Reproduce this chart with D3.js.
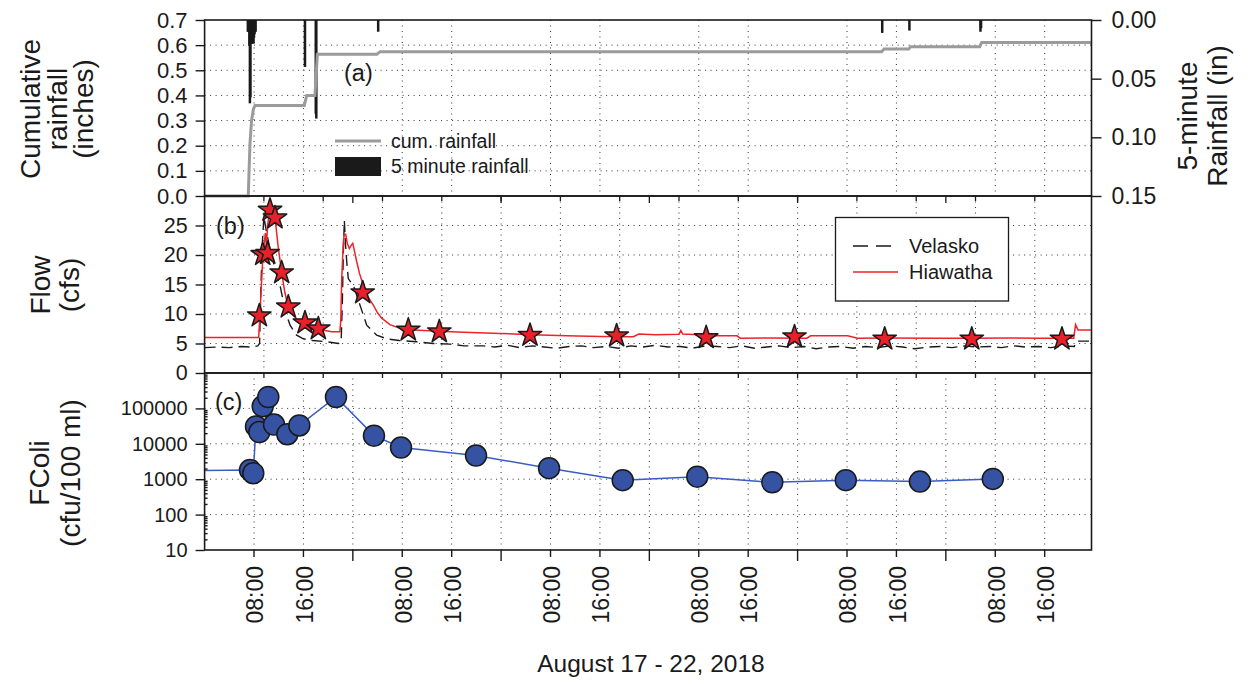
<!DOCTYPE html>
<html>
<head>
<meta charset="utf-8">
<script src="https://cdn.jsdelivr.net/npm/d3@7"></script>
<style>
  body { margin: 0; background: #fff; }
  svg text { font-family: "Liberation Sans", Arial, Helvetica, sans-serif; fill: #1a1a1a; }
</style>
</head>
<body>
<svg id="chart" width="1252" height="684"></svg>
<script>
// ---- Data (time in hours after 2018-08-17 00:00) ----
// Cumulative rainfall, inches
const cumRainHours  = [0, 7.07, 7.2, 7.35, 7.6, 7.9, 8.16, 16.14, 16.53, 17.87, 18.25, 27.9, 28.4, 109.6, 110.0, 114.0, 114.3, 125.5, 125.8, 143.6];
const cumRainInches = [0, 0, 0.10, 0.21, 0.30, 0.345, 0.36, 0.36, 0.40, 0.40, 0.564, 0.564, 0.574, 0.574, 0.585, 0.585, 0.594, 0.594, 0.611, 0.611];

// 5-minute rainfall, inches
const rain5Hours  = [7.0, 7.083, 7.167, 7.25, 7.333, 7.417, 7.5, 7.583, 7.667, 7.75, 7.833, 7.917, 8.0, 8.083, 8.167, 8.25, 16.25, 18.0, 18.083, 28.1, 109.7, 114.1, 125.6, 125.7];
const rain5Inches = [0.010, 0.010, 0.010, 0.022, 0.071, 0.066, 0.020, 0.020, 0.020, 0.020, 0.020, 0.020, 0.015, 0.012, 0.010, 0.010, 0.040, 0.080, 0.084, 0.010, 0.011, 0.009, 0.010, 0.007];

// Flow, cfs
const hiawathaHours = [0, 4, 8.75, 8.95, 9.15, 9.4, 9.65, 9.85, 10.0, 10.2, 10.5, 10.9, 11.4, 11.9, 12.48, 13.0, 13.55, 14.3, 15.2, 16.25, 17.3, 18.4, 19.5, 20.6, 21.9, 22.05, 22.2, 22.45, 22.6, 22.84, 23.1, 23.43, 23.7, 23.98, 24.3, 24.62, 25.1, 25.69, 26.4, 27.31, 28.0, 28.67, 30, 31.63, 34, 37, 42, 47.8, 53, 58.6, 64, 69.4, 70.3, 73, 76.8, 77.1, 77.4, 80, 81.3, 86.2, 86.7, 92, 97.5, 98.1, 104.1, 105.7, 111, 118, 124, 130, 135, 140.7, 141.0, 141.4, 143.6];
const hiawathaCfs   = [6.0, 6.0, 6.0, 9.7, 14, 19, 22, 23.7, 21.5, 25, 27.4, 27.6, 26.3, 21.5, 17.0, 13.6, 11.2, 9.8, 8.9, 8.4, 7.9, 7.5, 7.2, 7.0, 7.0, 9, 16, 22, 23.5, 23.5, 22, 21.1, 21.6, 22.0, 20.5, 18.9, 16.8, 14.9, 13.0, 11.5, 10.2, 9.3, 8.2, 7.6, 7.3, 7.1, 6.9, 6.7, 6.5, 6.3, 6.2, 6.15, 6.6, 6.5, 6.55, 7.2, 6.6, 6.5, 6.3, 6.3, 5.9, 5.95, 5.9, 6.3, 6.3, 5.9, 5.95, 5.9, 5.9, 5.95, 5.9, 5.9, 8.2, 7.3, 7.3];

const velaskoHours = [0, 2, 4, 6, 7.5, 8.6, 8.9, 9.1, 9.35, 9.6, 10.0, 10.6, 11.2, 11.7, 12.2, 12.74, 13.3, 13.83, 14.9, 15.98, 17.5, 19.77, 21.65, 22.1, 22.3, 22.45, 22.62, 22.8, 23.0, 23.26, 23.6, 24.07, 25.16, 26.24, 27.86, 29.48, 31.5, 34.3, 37, 39.7, 42, 45.1, 47, 49, 51, 53, 55, 57, 59, 61, 63, 65, 67, 69, 71, 73, 75, 77, 79, 81, 83, 85, 87, 89, 91, 93, 95, 97, 99, 101, 103, 105, 107, 109, 111, 113, 115, 117, 119, 121, 123, 125, 127, 129, 131, 133, 135, 137, 139, 140.8, 141.1, 143.6];
const velaskoCfs   = [4.3, 4.4, 4.3, 4.5, 4.4, 4.6, 5.0, 14, 22, 26.5, 24, 21, 18.5, 16.5, 14.9, 12.1, 9.8, 8.1, 6.4, 5.8, 5.5, 5.3, 5.0, 5.2, 12, 20, 25.9, 22, 19, 16, 15.5, 14.9, 11.5, 8.1, 6.4, 5.8, 5.5, 5.3, 5.0, 4.9, 4.6, 4.6, 4.4, 4.7, 4.3, 4.6, 4.4, 4.2, 4.5, 4.6, 4.3, 4.5, 4.2, 4.6, 4.4, 4.7, 4.4, 4.5, 4.2, 4.6, 4.5, 4.3, 4.6, 4.2, 4.4, 4.6, 4.3, 4.5, 4.1, 4.4, 4.5, 4.2, 4.5, 4.3, 4.6, 4.4, 4.1, 4.4, 4.5, 4.3, 4.6, 4.4, 4.5, 4.3, 4.6, 4.4, 4.5, 4.3, 4.6, 4.5, 5.4, 5.4];

// Flow at the sampling times, cfs
const sampleHours   = [8.86, 9.41, 10.21, 10.59, 11.4, 12.48, 13.55, 16.25, 18.41, 25.6, 32.98, 38.0, 52.68, 66.7, 81.2, 95.5, 110.1, 124.2, 138.8];
const sampleFlowCfs = [9.7, 20.1, 20.3, 27.6, 26.3, 17.0, 11.2, 8.5, 7.5, 13.6, 7.3, 7.0, 6.4, 6.3, 6.0, 6.15, 5.76, 5.76, 5.76];

// Fecal coliform, cfu/100 ml
const fcoliHours = [-6, 7.35, 7.88, 8.32, 8.86, 9.41, 10.31, 11.24, 13.39, 15.33, 21.27, 27.42, 31.8, 43.94, 55.76, 67.69, 79.76, 91.9, 103.8, 115.8, 127.6];
const fcoliCfu   = [1700, 1830, 1480, 31000, 21500, 115000, 210000, 35000, 18700, 33000, 210000, 17000, 7850, 4660, 2050, 940, 1180, 820, 940, 855, 1020];

// Axis ticks
const rainTicks   = [0, 0.1, 0.2, 0.3, 0.4, 0.5, 0.6, 0.7];
const rain5Ticks  = [0, 0.05, 0.10, 0.15];
const flowTicks   = [0, 5, 10, 15, 20, 25];
const fcoliTicks  = [10, 100, 1000, 10000, 100000];
const timeLabelHours = [8, 16];

// ---- Layout ----
const svg = d3.select("#chart");
const L = 204.6, R = 1091.5;
const rainTop = 20, rainBot = 196, flowTop = 196, flowBot = 373, fcTop = 373, fcBot = 550;

const t0 = Date.UTC(2018, 7, 17);
const T = h => new Date(t0 + h * 3600000);
const x = d3.scaleUtc().domain([T(0), T(143.58)]).range([L, R]);
const yRain = d3.scaleLinear().domain([0, 0.7]).range([rainBot, rainTop]);
const yRain5 = d3.scaleLinear().domain([0, 0.15]).range([rainTop, rainBot]);
const yFlow = d3.scaleLinear().domain([0, 30]).range([flowBot, flowTop]);
const yFc = d3.scaleLog().domain([10, 1e6]).range([fcBot, fcTop]);
// day-number scale used by the flow panel's own grid (0.4-day spacing)
const xDay = d3.scaleLinear().domain([228, 228 + 143.58 / 24]).range([L, R]);

svg.append("defs").append("clipPath").attr("id", "plotclip")
  .append("rect").attr("x", L).attr("y", rainTop).attr("width", R - L).attr("height", fcBot - rainTop);

const gridStyle = sel => sel.attr("stroke", "#333").attr("stroke-width", 1).attr("stroke-dasharray", "1,4.5");

// ---- Gridlines ----
const grid = svg.append("g");
const hours8 = d3.utcHour.every(8).range(T(0), T(143.58)).filter(d => +d > +T(0.5));
// rain panel: horizontal + vertical at 08:00/16:00
grid.append("g").selectAll("line").data(rainTicks.slice(1, -1)).join("line")
  .attr("x1", L).attr("x2", R).attr("y1", d => yRain(d)).attr("y2", d => yRain(d)).call(gridStyle);
grid.append("g").selectAll("line").data(hours8.filter(d => d.getUTCHours() !== 0)).join("line")
  .attr("x1", d => x(d)).attr("x2", d => x(d)).attr("y1", rainTop).attr("y2", rainBot).call(gridStyle);
// flow panel
const dayTicks = d3.range(228.4, 228 + 143.58 / 24, 0.4);
grid.append("g").selectAll("line").data(flowTicks.slice(1)).join("line")
  .attr("x1", L).attr("x2", R).attr("y1", d => yFlow(d)).attr("y2", d => yFlow(d)).call(gridStyle);
grid.append("g").selectAll("line").data(dayTicks).join("line")
  .attr("x1", d => xDay(d)).attr("x2", d => xDay(d)).attr("y1", flowTop).attr("y2", flowBot).call(gridStyle);
// fcoli panel
grid.append("g").selectAll("line").data(fcoliTicks.slice(1)).join("line")
  .attr("x1", L).attr("x2", R).attr("y1", d => yFc(d)).attr("y2", d => yFc(d)).call(gridStyle);
grid.append("g").selectAll("line").data(hours8).join("line")
  .attr("x1", d => x(d)).attr("x2", d => x(d)).attr("y1", fcTop).attr("y2", fcBot).call(gridStyle);

// ---- Panel (a): rainfall ----
const plot = svg.append("g").attr("clip-path", "url(#plotclip)");
plot.append("g").selectAll("rect").data(rain5Hours.map((h, i) => [h, rain5Inches[i]])).join("rect")
  .attr("x", d => x(T(d[0])) - 1.25).attr("width", 2.5)
  .attr("y", yRain5(0)).attr("height", d => yRain5(d[1]) - yRain5(0))
  .attr("fill", "#1a1a1a");
plot.append("path")
  .datum(cumRainHours.map((h, i) => [h, cumRainInches[i]]))
  .attr("fill", "none").attr("stroke", "#9b9b9b").attr("stroke-width", 3)
  .attr("d", d3.line().x(d => x(T(d[0]))).y(d => yRain(d[1])));

// legend (a)
svg.append("line").attr("x1", 335).attr("x2", 381).attr("y1", 141).attr("y2", 141)
  .attr("stroke", "#9b9b9b").attr("stroke-width", 3);
svg.append("text").attr("x", 391).attr("y", 148).attr("font-size", 19.5).text("cum. rainfall");
svg.append("rect").attr("x", 335).attr("y", 157).attr("width", 46).attr("height", 19).attr("fill", "#1a1a1a");
svg.append("text").attr("x", 391).attr("y", 173).attr("font-size", 19.5).text("5 minute rainfall");
svg.append("text").attr("x", 344).attr("y", 81).attr("font-size", 23.5).text("(a)");

// ---- Panel (b): flow ----
const flowLine = d3.line().x(d => x(T(d[0]))).y(d => yFlow(d[1]));
plot.append("path").datum(velaskoHours.map((h, i) => [h, velaskoCfs[i]]))
  .attr("fill", "none").attr("stroke", "#1a1a1a").attr("stroke-width", 1.4)
  .attr("stroke-dasharray", "11,6").attr("d", flowLine);
plot.append("path").datum(hiawathaHours.map((h, i) => [h, hiawathaCfs[i]]))
  .attr("fill", "none").attr("stroke", "#ee2229").attr("stroke-width", 1.5).attr("d", flowLine);
const star = d3.symbol(d3.symbolStar, 170);
svg.append("g").selectAll("path").data(sampleHours.map((h, i) => [h, sampleFlowCfs[i]])).join("path")
  .attr("d", star)
  .attr("transform", d => `translate(${x(T(d[0]))},${yFlow(d[1])})`)
  .attr("fill", "#e8202a").attr("stroke", "#1a1a1a").attr("stroke-width", 1.5).attr("stroke-linejoin", "round");

svg.append("text").attr("x", 216).attr("y", 234).attr("font-size", 23.5).text("(b)");
// legend (b)
const lg = svg.append("g");
lg.append("rect").attr("x", 835.5).attr("y", 217.5).attr("width", 173).attr("height", 83.5)
  .attr("fill", "#fff").attr("stroke", "#1a1a1a").attr("stroke-width", 1.3);
lg.append("line").attr("x1", 853).attr("x2", 894).attr("y1", 246).attr("y2", 246)
  .attr("stroke", "#1a1a1a").attr("stroke-width", 1.4).attr("stroke-dasharray", "15,8");
lg.append("text").attr("x", 909).attr("y", 253).attr("font-size", 20).text("Velasko");
lg.append("line").attr("x1", 853).attr("x2", 898).attr("y1", 272).attr("y2", 272)
  .attr("stroke", "#ee2229").attr("stroke-width", 1.5);
lg.append("text").attr("x", 909).attr("y", 279).attr("font-size", 20).text("Hiawatha");

// ---- Panel (c): fecal coliform ----
const fc = fcoliHours.map((h, i) => [h, fcoliCfu[i]]);
plot.append("path").datum(fc)
  .attr("fill", "none").attr("stroke", "#3a5cc4").attr("stroke-width", 1.5)
  .attr("d", d3.line().x(d => x(T(d[0]))).y(d => yFc(d[1])));
svg.append("g").selectAll("circle").data(fc.filter(d => d[0] >= 0)).join("circle")
  .attr("cx", d => x(T(d[0]))).attr("cy", d => yFc(d[1])).attr("r", 10.5)
  .attr("fill", "#3652a3").attr("stroke", "#1a1a1a").attr("stroke-width", 1.5);
svg.append("text").attr("x", 215).attr("y", 410).attr("font-size", 23.5).text("(c)");

// ---- Frames ----
[[rainTop, rainBot], [flowTop, flowBot], [fcTop, fcBot]].forEach(([a, b]) => {
  svg.append("rect").attr("x", L).attr("y", a).attr("width", R - L).attr("height", b - a)
    .attr("fill", "none").attr("stroke", "#1a1a1a").attr("stroke-width", 1.6);
});

// ---- Axes ----
const styleAxis = (g, fs) => {
  g.select(".domain").remove();
  g.selectAll(".tick line").attr("stroke", "#1a1a1a").attr("stroke-width", 1.4);
  g.selectAll(".tick text").attr("font-size", fs).attr("fill", "#1a1a1a")
    .attr("font-family", "Liberation Sans, Arial, sans-serif");
};
svg.append("g").attr("transform", `translate(${L},0)`)
  .call(d3.axisLeft(yRain).tickValues(rainTicks).tickFormat(d3.format(".1f")).tickSize(9).tickPadding(8))
  .call(g => styleAxis(g, 22));
svg.append("g").attr("transform", `translate(${L},0)`)
  .call(d3.axisLeft(yFlow).tickValues(flowTicks).tickFormat(d3.format("d")).tickSize(9).tickPadding(8))
  .call(g => styleAxis(g, 21.5));
svg.append("g").attr("transform", `translate(${L},0)`)
  .call(d3.axisLeft(yFc).tickValues(fcoliTicks).tickFormat(d3.format("d")).tickSize(9).tickPadding(8))
  .call(g => styleAxis(g, 20));
// minor log ticks
const minor = yFc.ticks().filter(d => !fcoliTicks.includes(d) && d < 1e6);
svg.append("g").attr("transform", `translate(${L},0)`)
  .call(d3.axisRight(yFc).tickValues(minor).tickFormat("").tickSize(3))
  .call(g => styleAxis(g, 0));
svg.append("g").attr("transform", `translate(${R},0)`)
  .call(d3.axisRight(yRain5).tickValues(rain5Ticks).tickFormat(d3.format(".2f")).tickSize(10).tickPadding(10))
  .call(g => styleAxis(g, 23));

// bottom time axis
const bottom = svg.append("g").attr("transform", `translate(0,${fcBot})`);
bottom.selectAll("line").data(hours8).join("line")
  .attr("x1", d => x(d)).attr("x2", d => x(d)).attr("y1", 0)
  .attr("y2", d => d.getUTCHours() === 0 ? 11 : 7)
  .attr("stroke", "#1a1a1a").attr("stroke-width", 1.4);
const fmt = d3.utcFormat("%H:%M");
bottom.selectAll("text").data(hours8.filter(d => timeLabelHours.includes(d.getUTCHours()))).join("text")
  .attr("transform", d => `translate(${x(d) + 1},16) rotate(-90)`)
  .attr("text-anchor", "end").attr("dy", "0.36em").attr("font-size", 23)
  .text(d => fmt(d));
// inner boundary ticks
svg.append("g").selectAll("line").data(dayTicks).join("line")
  .attr("x1", d => xDay(d)).attr("x2", d => xDay(d)).attr("y1", flowTop).attr("y2", flowTop + 5)
  .attr("stroke", "#1a1a1a").attr("stroke-width", 1.3);
svg.append("g").selectAll("line").data(dayTicks).join("line")
  .attr("x1", d => xDay(d)).attr("x2", d => xDay(d)).attr("y1", fcTop).attr("y2", fcTop + 5)
  .attr("stroke", "#1a1a1a").attr("stroke-width", 1.3);
svg.append("g").selectAll("line").data(hours8.filter(d => d.getUTCHours() === 0)).join("line")
  .attr("x1", d => x(d)).attr("x2", d => x(d)).attr("y1", flowTop).attr("y2", flowTop + 7)
  .attr("stroke", "#1a1a1a").attr("stroke-width", 1.3);

// ---- Titles ----
const vTitle = (lines, cx, cy, gap, fs) => {
  lines.forEach((s, i) => {
    svg.append("text")
      .attr("transform", `translate(${cx + i * gap},${cy}) rotate(-90)`)
      .attr("text-anchor", "middle").attr("dy", "0.36em").attr("font-size", fs).text(s);
  });
};
vTitle(["Cumulative", "rainfall", "(inches)"], 30, 109, 26.5, 28);
vTitle(["Flow", "(cfs)"], 40, 285, 29, 28);
vTitle(["FColi", "(cfu/100 ml)"], 39, 473, 31, 28);
vTitle(["5-minute", "Rainfall (in)"], 1187, 116, 30, 28);
svg.append("text").attr("x", 651).attr("y", 672).attr("text-anchor", "middle").attr("font-size", 24.5)
  .text("August 17 - 22, 2018");
</script>
</body>
</html>
